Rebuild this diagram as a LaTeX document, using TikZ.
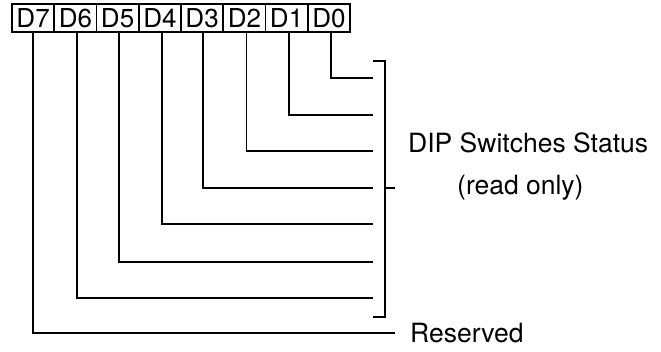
\documentclass[tikz,border=0pt]{standalone}
\usepackage{fontspec}
\setmainfont{TeX Gyre Heros}
\pgfdeclarelayer{edgelayer}
\pgfdeclarelayer{nodelayer}
\pgfsetlayers{edgelayer,nodelayer,main}
\tikzstyle{bitbox}=[draw=black, line width=1.6pt, minimum width=42.25pt, minimum height=28pt, inner sep=0pt, font=\fontsize{26}{26}\selectfont]
\tikzstyle{wire}=[draw=black, line width=1.8pt]
\tikzstyle{label}=[anchor=west, inner sep=0pt, font=\fontsize{26.5}{26.5}\selectfont]

\begin{document}
\begin{tikzpicture}[x=1pt, y=-1pt]
				\useasboundingbox (0, 0) rectangle (661, 352);
				\begin{pgfonlayer}{nodelayer}
					\node [style=bitbox] (d7) at (33.1, 18) {D7};
					\node [style=bitbox] (d6) at (75.4, 18) {D6};
					\node [style=bitbox] (d5) at (117.6, 18) {D5};
					\node [style=bitbox] (d4) at (159.9, 18) {D4};
					\node [style=bitbox] (d3) at (202.1, 18) {D3};
					\node [style=bitbox] (d2) at (244.4, 18) {D2};
					\node [style=bitbox] (d1) at (286.6, 18) {D1};
					\node [style=bitbox] (d0) at (328.9, 18) {D0};
					\node [style=label] (status) at (408, 143) {DIP Switches Status};
					\node [style=label] (readonly) at (457, 188) {(read only)};
					\node [style=label] (reserved) at (410, 333) {Reserved};
				\end{pgfonlayer}
				\begin{pgfonlayer}{edgelayer}
					\coordinate (e0) at (373, 78);
					\coordinate (e1) at (373, 115);
					\coordinate (e2) at (373, 151);
					\coordinate (e3) at (373, 188);
					\coordinate (e4) at (373, 224);
					\coordinate (e5) at (373, 262);
					\coordinate (e6) at (373, 298);
					\coordinate (e7) at (395, 333);
					\coordinate (bt) at (373, 61);
					\coordinate (bb) at (373, 317);
					\coordinate (bm) at (395, 188);
					\draw [style=wire] ([xshift=2pt]d0.south) |- (e0);
					\draw [style=wire] ([xshift=2pt]d1.south) |- (e1);
					\draw [style=wire] ([xshift=2pt]d2.south) |- (e2);
					\draw [style=wire] ([xshift=1pt]d3.south) |- (e3);
					\draw [style=wire] ([xshift=2pt]d4.south) |- (e4);
					\draw [style=wire] ([xshift=1pt]d5.south) |- (e5);
					\draw [style=wire] ([xshift=1.5pt]d6.south) |- (e6);
					\draw [style=wire] (d7.south) |- (e7);
					\draw [style=wire] (bt) -| (385, 188) |- (bb);
					\draw [style=wire] (385, 188) -- (bm);
				\end{pgfonlayer}
			\end{tikzpicture}
\end{document}
